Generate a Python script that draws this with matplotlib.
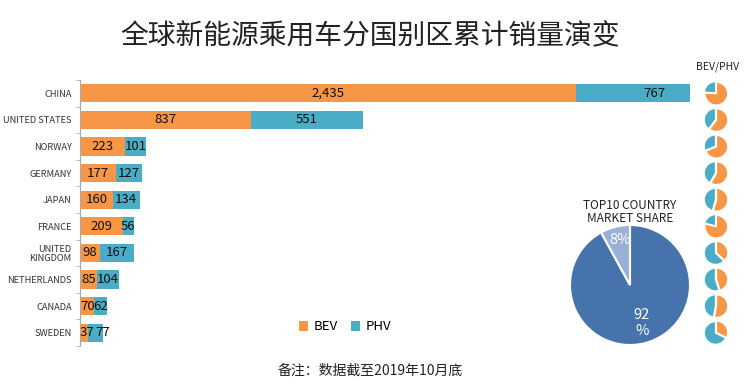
import numpy as np
import matplotlib
matplotlib.use("Agg")
import matplotlib.pyplot as plt

plt.rcParams['font.family'] = ['Noto Sans CJK SC', 'DejaVu Sans']

countries = ["CHINA", "UNITED STATES", "NORWAY", "GERMANY", "JAPAN", "FRANCE",
             "UNITED\nKINGDOM", "NETHERLANDS", "CANADA", "SWEDEN"]
bev = [2435, 837, 223, 177, 160, 209, 98, 85, 70, 37]
phv = [767, 551, 101, 127, 134, 56, 167, 104, 62, 77]
share = [92, 8]
share_labels = ["92\n%", "8%"]

c_bev = "#F79646"
c_phv = "#4BACC6"
c_top = "#4673AC"
c_rest = "#9AB1D6"

W, H = 744, 392
fig = plt.figure(figsize=(W / 100, H / 100), dpi=100)

fig.text(370 / W, 1 - 36 / H, "全球新能源乘用车分国别区累计销量演变",
         ha="center", va="center", fontsize=20, color="#222222")

# main stacked bars (China bar is cut at the axis end, as in the original)
top_px, bot_px = 80, 346
ax = fig.add_axes([80 / W, 1 - bot_px / H, 610 / W, (bot_px - top_px) / H])
y = np.arange(len(countries))
ax.barh(y, bev, height=0.68, color=c_bev)
ax.barh(y, phv, left=bev, height=0.68, color=c_phv)
for i in range(len(countries)):
    if bev[i] < 50:
        # too narrow to center, push labels apart
        ax.text(0, y[i], f"{bev[i]:,}", ha="left", va="center", fontsize=9.5, color="#111111")
        ax.text(bev[i] + phv[i] / 2, y[i], f"{phv[i]:,}", ha="left", va="center", fontsize=9.5, color="#111111")
        continue
    ax.text(bev[i] / 2, y[i], f"{bev[i]:,}", ha="center", va="center", fontsize=9.5, color="#111111")
    ax.text(bev[i] + phv[i] / 2, y[i], f"{phv[i]:,}", ha="center", va="center", fontsize=9.5, color="#111111")
ax.set_xlim(0, 2992)
ax.set_ylim(len(countries) - 0.5, -0.5)
ax.set_yticks(y)
ax.set_yticklabels(countries, fontsize=6.7, color="#333333", linespacing=1.0)
ax.set_yticks(np.arange(-0.5, len(countries)), minor=True)
ax.tick_params(axis="y", which="major", length=0, pad=6)
ax.tick_params(axis="y", which="minor", length=3, color="#aaaaaa")
ax.set_xticks([])
for s in ["top", "right", "bottom"]:
    ax.spines[s].set_visible(False)
ax.spines["left"].set_color("#aaaaaa")
ax.legend(["BEV", "PHV"], loc="center", bbox_to_anchor=(345 / W, 1 - 327 / H),
          bbox_transform=fig.transFigure, ncol=2, frameon=False, fontsize=9.5,
          handlelength=0.7, handleheight=0.7, handletextpad=0.4, columnspacing=1.0)

# small BEV/PHV pies
fig.text(718 / W, 1 - 67 / H, "BEV/PHV", ha="center", va="center", fontsize=7.5, color="#222222")
row_h = (bot_px - top_px) / len(countries)
r = 12
for i in range(len(countries)):
    cy = top_px + (i + 0.5) * row_h
    pax = fig.add_axes([(716 - r) / W, 1 - (cy + r) / H, 2 * r / W, 2 * r / H])
    pax.pie([bev[i], phv[i]], colors=[c_bev, c_phv], startangle=90, counterclock=False,
            explode=[0.04, 0.04], radius=0.95,
            wedgeprops=dict(edgecolor="white", linewidth=1.0))
    pax.set_xlim(-1, 1)
    pax.set_ylim(-1, 1)
    pax.set_aspect("equal")

# top10 market share pie
fig.text(630 / W, 1 - 212 / H, "TOP10 COUNTRY\nMARKET SHARE", ha="center", va="center",
         fontsize=8.5, color="#222222", linespacing=1.0)
R = 60
bax = fig.add_axes([(630 - R) / W, 1 - (285 + R) / H, 2 * R / W, 2 * R / H])
bax.pie(share, colors=[c_top, c_rest], startangle=90, counterclock=False,
        wedgeprops=dict(edgecolor="white", linewidth=1.5))
bax.text(0.2, -0.63, share_labels[0], ha="center", va="center", color="white", fontsize=10.5, linespacing=1.2)
bax.text(-0.16, 0.75, share_labels[1], ha="center", va="center", color="white", fontsize=10.5)
bax.set_xlim(-1, 1)
bax.set_ylim(-1, 1)
bax.set_aspect("equal")

fig.text(370 / W, 1 - 371 / H, "备注：数据截至2019年10月底", ha="center", va="center",
         fontsize=10, color="#222222")

fig.savefig("out.png", dpi=100)
